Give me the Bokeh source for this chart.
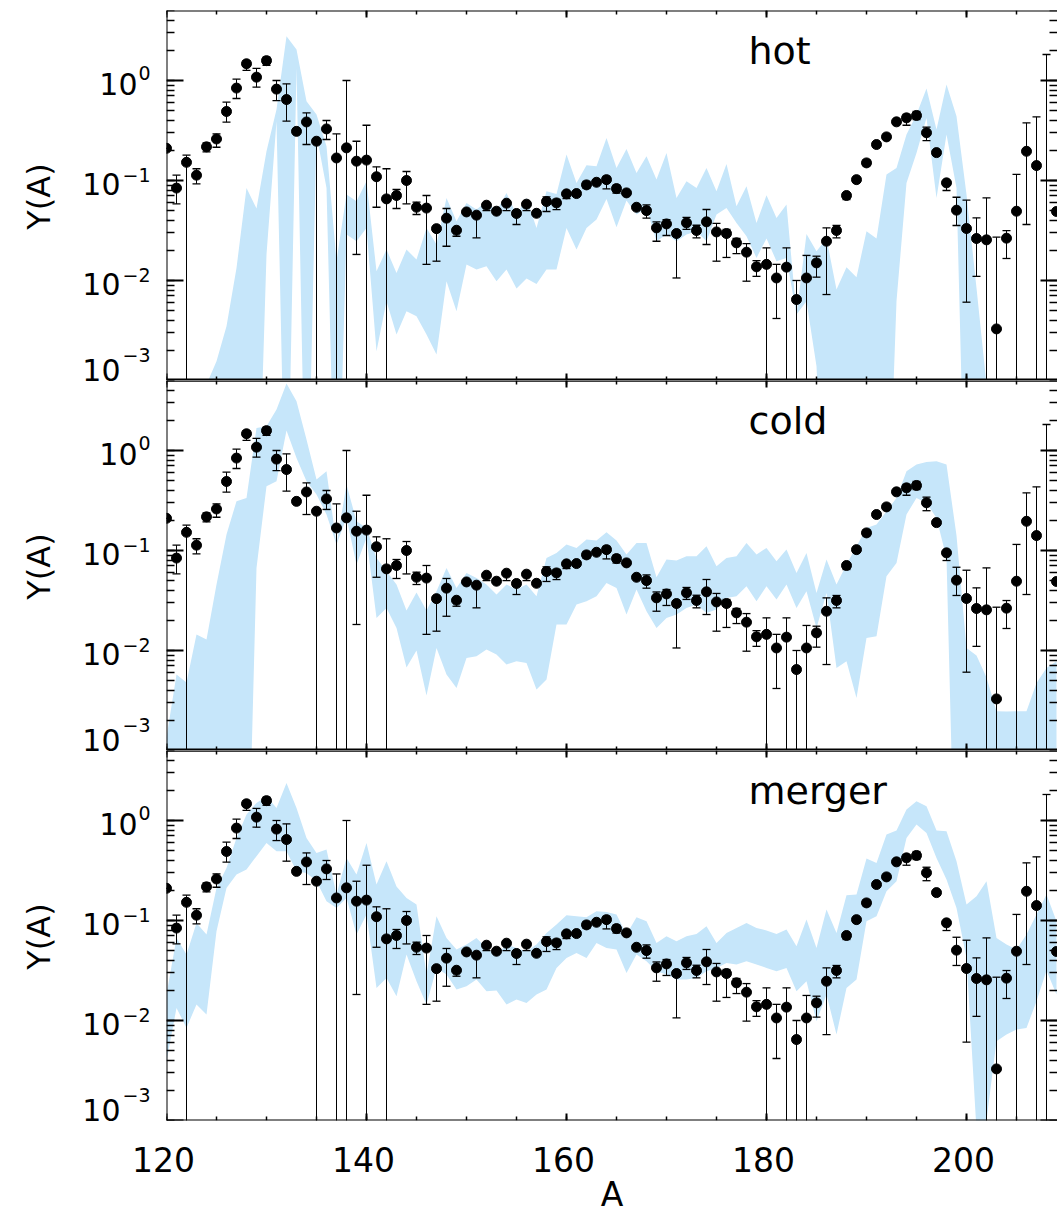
import numpy as np
from bokeh.plotting import figure
from bokeh.layouts import column, row
from bokeh.models import (ColumnDataSource, Range1d, LinearAxis, LogAxis,
                          SingleIntervalTicker, LogTicker, CustomJSTickFormatter, Label)
from bokeh.core.properties import value
from bokeh.embed import file_html
from bokeh.resources import INLINE

# ---------------------------------------------------------------- data
mass_number = list(range(120, 210))

# solar r-process abundances with their lower / upper error limits
solar_y = [0.21, 0.084, 0.152, 0.113, 0.217, 0.26, 0.49, 0.84, 1.47, 1.08,
           1.58, 0.82, 0.645, 0.31, 0.385, 0.247, 0.328, 0.168, 0.212, 0.156,
           0.16, 0.109, 0.0655, 0.0708, 0.1, 0.054, 0.053, 0.033, 0.042, 0.0318,
           0.0485, 0.045, 0.0566, 0.0493, 0.0593, 0.0468, 0.058, 0.047, 0.0616, 0.0597,
           0.0735, 0.074, 0.0904, 0.096, 0.102, 0.083, 0.0752, 0.054, 0.05, 0.0336,
           0.0368, 0.0295, 0.0377, 0.0316, 0.0386, 0.0306, 0.0295, 0.0238, 0.0192, 0.0137,
           0.0145, 0.0106, 0.0136, 0.00645, 0.0106, 0.015, 0.0247, 0.0316, 0.0708, 0.102,
           0.15, 0.229, 0.273, 0.386, 0.423, 0.447, 0.3, 0.19, 0.0947, 0.0505,
           0.0331, 0.0263, 0.0255, 0.00328, 0.0265, 0.0493, 0.196, 0.141, 0.0001, 0.049]
solar_lo = [0.21, 0.0583, 1e-5, 0.0925, 0.193, 0.215, 0.383, 0.661, 1.26, 0.857,
            1.42, 0.63, 0.392, 0.31, 0.229, 1e-5, 0.257, 1e-5, 1e-5, 0.0182,
            1e-5, 0.054, 1e-5, 0.0525, 0.0583, 0.0457, 0.0145, 0.0156, 0.022, 0.0277,
            0.0485, 0.0267, 0.05, 0.0493, 0.05, 0.0363, 0.05, 0.047, 0.049, 0.0512,
            0.066, 0.074, 0.0835, 0.096, 0.0824, 0.075, 0.0752, 0.054, 0.042, 0.0247,
            0.0282, 0.0106, 0.0324, 0.0267, 0.0229, 0.0156, 0.017, 0.0186, 0.00984, 0.011,
            1e-5, 0.00417, 1e-5, 1e-5, 1e-5, 0.0108, 0.00724, 0.0267, 0.0645, 0.102,
            0.14, 0.229, 0.273, 0.386, 0.357, 0.407, 0.25, 0.19, 0.0794, 0.0355,
            0.00607, 0.011, 1e-5, 1e-5, 0.0166, 1e-5, 0.0363, 1e-5, 1e-5, 0.049]
solar_hi = [0.21, 0.113, 0.179, 0.131, 0.238, 0.292, 0.607, 1.03, 1.58, 1.32,
            1.71, 1.0, 0.925, 0.31, 0.474, 0.247, 0.398, 0.292, 1.0, 0.247,
            0.357, 0.137, 0.131, 0.0813, 0.123, 0.0607, 0.0708, 0.033, 0.0525, 0.0318,
            0.0485, 0.045, 0.0566, 0.0493, 0.0593, 0.0468, 0.058, 0.047, 0.0686, 0.0646,
            0.0735, 0.074, 0.0977, 0.096, 0.11, 0.09, 0.0752, 0.054, 0.057, 0.0385,
            0.0407, 0.0295, 0.0427, 0.0357, 0.0513, 0.0372, 0.0324, 0.0263, 0.0234, 0.0158,
            0.0212, 0.0145, 0.0212, 0.01, 0.0178, 0.0175, 0.0336, 0.0355, 0.0708, 0.102,
            0.16, 0.229, 0.273, 0.386, 0.457, 0.49, 0.341, 0.19, 0.0947, 0.068,
            0.0635, 0.0423, 0.067, 0.0271, 0.0316, 0.115, 0.377, 0.433, 1.82, 0.049]

# model bands (log10 of lower / upper edge); -5 means far below the axis
hot_lo_log = [-5, -5, -5, -5, -5, -5, -5, -5, -5, -5,
              -1.74, -0.407, -5, 0.126, -5, -0.54, -1.074, -5, -1.54, -1.607,
              -1.474, -2.707, -2.207, -2.54, -2.307, -2.357, -2.54, -2.74, -2.007, -2.307,
              -1.84, -1.89, -1.857, -2.007, -1.89, -2.08, -1.98, -2.034, -1.89, -1.89,
              -1.474, -1.69, -1.474, -1.39, -1.184, -1.467, -1.2, -1.34, -1.274, -1.607,
              -1.54, -1.607, -1.54, -1.507, -1.607, -1.34, -1.274, -1.424, -1.557, -1.774,
              -1.58, -1.807, -1.774, -2.34, -2.207, -2.857, -5, -5, -5, -5,
              -5, -5, -5, -2.207, -1.024, -0.724, -0.374, -1.174, -0.54, -1.074,
              -5, -5, -5, -5, -5, -5, -5, -5, -5, -5]
hot_hi_log = [-5, -5, -5, -5, -3.04, -2.807, -2.457, -1.874, -1.074, -1.28,
              -0.707, -0.29, 0.443, 0.31, -0.207, -0.34, -0.657, -1.807, -1.14, -1.207,
              -1.007, -1.907, -1.69, -1.924, -1.69, -1.79, -1.474, -1.64, -1.174, -1.407,
              -1.224, -1.29, -1.207, -1.307, -1.124, -1.34, -1.174, -1.474, -1.107, -1.134,
              -0.74, -1.024, -0.847, -0.857, -0.574, -0.874, -0.684, -0.924, -0.757, -0.99,
              -0.724, -1.174, -1.007, -1.074, -0.874, -1.107, -0.834, -1.257, -1.057, -1.424,
              -1.147, -1.374, -1.24, -2.34, -1.534, -1.707, -1.58, -2.09, -1.867, -1.967,
              -1.507, -1.58, -0.94, -0.874, -0.54, -0.34, -0.08, -0.49, -0.04, -0.357,
              -1.14, -2.074, -3.04, -5, -5, -5, -5, -5, -5, -5]

cold_lo_log = [-5, -5, -5, -5, -5, -5, -5, -5, -5, -1.174,
               -0.357, -0.307, 0.2, -0.074, -0.307, -0.44, -0.64, -0.94, -0.674, -1.14,
               -0.874, -1.674, -1.574, -1.774, -2.17, -2.0, -2.45, -1.974, -2.24, -2.374,
               -2.074, -2.057, -1.99, -2.04, -2.14, -2.107, -2.124, -2.39, -2.29, -1.74,
               -1.74, -1.54, -1.507, -1.457, -1.324, -1.374, -1.64, -1.39, -1.607, -1.774,
               -1.674, -1.64, -1.574, -1.54, -1.624, -1.59, -1.474, -1.457, -1.357, -1.507,
               -1.357, -1.49, -1.34, -1.574, -1.407, -1.774, -1.424, -2.174, -2.107, -2.474,
               -1.874, -1.857, -1.257, -1.124, -0.64, -0.474, -0.524, -0.674, -1.074, -5,
               -5, -5, -5, -5, -5, -5, -5, -5, -5, -5]
cold_hi_log = [-2.87, -2.24, -2.32, -1.84, -1.89, -1.34, -0.84, -0.507, -0.474, 0.226,
               0.243, 0.41, 0.67, 0.493, 0.11, -0.29, -0.207, -0.94, -0.34, -0.707,
               -0.774, -1.074, -1.207, -1.34, -1.6, -1.42, -1.6, -1.407, -1.174, -1.374,
               -1.224, -1.274, -1.34, -1.44, -1.34, -1.39, -1.34, -1.457, -1.074, -1.024,
               -0.94, -0.974, -0.89, -0.9, -0.817, -0.9, -1.04, -0.924, -0.924, -1.267,
               -1.09, -1.1, -1.057, -1.057, -0.957, -1.157, -1.074, -1.057, -0.924, -1.04,
               -0.974, -1.107, -0.99, -1.224, -1.024, -1.424, -1.09, -1.34, -1.14, -0.957,
               -0.774, -0.74, -0.607, -0.474, -0.207, -0.14, -0.114, -0.107, -0.14, -0.85,
               -1.974, -2.05, -2.27, -2.607, -2.61, -2.607, -2.607, -2.324, -2.174, -2.107]

merger_lo_log = [-2.407, -1.874, -2.074, -1.84, -1.94, -1.107, -0.674, -0.54, -0.49, -0.357,
                 -0.224, -0.307, -0.307, -0.507, -0.524, -0.607, -0.807, -0.874, -0.774, -1.14,
                 -0.94, -1.674, -1.574, -1.757, -1.34, -1.607, -1.84, -1.474, -1.54, -1.69,
                 -1.657, -1.59, -1.707, -1.7, -1.84, -1.79, -1.824, -1.74, -1.69, -1.474,
                 -1.374, -1.324, -1.374, -1.224, -1.274, -1.29, -1.524, -1.34, -1.407, -1.507,
                 -1.54, -1.59, -1.59, -1.574, -1.507, -1.474, -1.424, -1.44, -1.407, -1.44,
                 -1.474, -1.507, -1.474, -1.707, -1.607, -2.007, -1.74, -2.14, -1.674, -1.59,
                 -1.007, -0.957, -0.707, -0.607, -0.174, -0.04, -0.124, -0.374, -0.59, -0.874,
                 -1.374, -3.1, -3.0, -2.207, -2.14, -2.09, -2.074, -1.807, -1.5, -1.74]
merger_hi_log = [-1.74, -1.174, -1.34, -1.024, -1.14, -0.674, -0.474, -0.174, 0.06, 0.176,
                 0.243, 0.126, 0.376, 0.126, -0.174, -0.324, -0.29, -0.74, -0.374, -0.54,
                 -0.224, -0.64, -0.407, -0.66, -0.774, -0.84, -1.54, -0.957, -1.174, -1.29,
                 -1.24, -1.174, -1.274, -1.34, -1.24, -1.274, -1.307, -1.24, -1.124, -1.04,
                 -0.947, -0.957, -0.967, -0.907, -0.914, -0.94, -1.14, -0.967, -1.007, -1.224,
                 -1.157, -1.207, -1.157, -1.134, -1.057, -1.224, -1.124, -1.074, -1.024, -1.074,
                 -1.1, -1.134, -1.09, -1.257, -0.99, -1.274, -0.89, -1.124, -0.747, -0.74,
                 -0.38, -0.424, -0.14, -0.1, 0.11, 0.193, 0.143, -0.1, -0.107, -0.407,
                 -0.84, -0.757, -0.607, -1.174, -1.24, -1.29, -1.14, -0.94, -0.74, -1.007]

panel_names = ["hot", "cold", "merger"]
band_edges = [(hot_lo_log, hot_hi_log), (cold_lo_log, cold_hi_log), (merger_lo_log, merger_hi_log)]
x_tick_values = [120, 140, 160, 180, 200]
y_tick_exponents = [0, -1, -2, -3]
x_axis_title = "A"
y_axis_title = "Y(A)"

# ---------------------------------------------------------------- style
FONT = "DejaVu Sans"
BAND_COLOR = "#c6e6fa"
X_START, X_END = 120, 209.1
Y_BOTTOM, Y_TOP = 1e-3, 10 ** 0.7
FRAME_H = 370
PAGE_W = 1057
PAGE_H = 1213
GUTTER_W = 163          # label column left of the panels
PAD = 3                 # room for the frame line on the panel canvas
TOP = 10                # space above the first panel
BELOW = 13              # space under the last panel kept in the panel column
PX_PER_A = 10.0         # horizontal scale of the panels
borders = [(TOP, 0), (0, 0), (0, BELOW)]
COLUMN_H = sum(t + FRAME_H + b for t, b in borders)
STRIP_H = PAGE_H - COLUMN_H   # x tick labels and title below the last panel

solar = ColumnDataSource(dict(A=mass_number, Y=solar_y, lo=solar_lo, hi=solar_hi))


def blank():
    return CustomJSTickFormatter(code="return ''")


def style_axis(ax, major_in, minor_in, width=2):
    ax.major_tick_in = major_in
    ax.major_tick_out = 0
    ax.minor_tick_in = minor_in
    ax.minor_tick_out = 0
    ax.axis_line_width = width
    ax.axis_line_color = "black"
    ax.major_tick_line_width = 2
    ax.minor_tick_line_width = 1.5
    ax.major_tick_line_color = "black"
    ax.minor_tick_line_color = "black"
    ax.major_label_text_font_size = "0px"


def bare(p):
    p.outline_line_color = None
    p.background_fill_color = "white"
    p.border_fill_color = "white"
    p.grid.visible = False
    return p


def make_panel(idx, top, bottom):
    name = panel_names[idx]
    lo_log, hi_log = band_edges[idx]
    p = figure(width=PAGE_W - GUTTER_W, height=top + FRAME_H + bottom,
               x_range=Range1d(X_START, X_END), y_range=Range1d(Y_BOTTOM, Y_TOP),
               y_axis_type="log", x_axis_location=None, y_axis_location=None,
               output_backend="svg", toolbar_location=None, tools="", title=None,
               min_border_left=PAD, min_border_right=0,
               min_border_top=top, min_border_bottom=bottom)
    bare(p)

    band = ColumnDataSource(dict(A=mass_number,
                                 lo=10.0 ** np.array(lo_log),
                                 hi=10.0 ** np.array(hi_log)))
    p.varea(x="A", y1="lo", y2="hi", source=band, fill_color=BAND_COLOR)

    # error bars, caps and points
    p.segment(x0="A", y0="lo", x1="A", y1="hi", source=solar,
              line_color="black", line_width=1)
    p.scatter(x="A", y="hi", source=solar, marker="dash", size=8,
              line_color="black", line_width=1.3)
    p.scatter(x="A", y="lo", source=solar, marker="dash", size=8,
              line_color="black", line_width=1.3)
    p.scatter(x="A", y="Y", source=solar, marker="circle", size=10,
              fill_color="black", line_color="black")

    # x axes: inward ticks on top and bottom of every panel
    top_ax = LinearAxis(ticker=SingleIntervalTicker(interval=20, num_minor_ticks=4),
                        formatter=blank(), fixed_location=Y_TOP)
    style_axis(top_ax, 7, 4, width=2 if idx == 0 else 2.5)
    p.add_layout(top_ax, "above")

    bot_ax = LinearAxis(ticker=SingleIntervalTicker(interval=20, num_minor_ticks=4),
                        formatter=blank(), fixed_location=Y_BOTTOM)
    style_axis(bot_ax, 7, 4, width=2 if idx == 2 else 4)
    p.add_layout(bot_ax, "below")

    # y axes: inward ticks on both sides
    left_ax = LogAxis(ticker=LogTicker(num_minor_ticks=10), formatter=blank(),
                      fixed_location=X_START)
    style_axis(left_ax, 17, 8)
    p.add_layout(left_ax, "left")

    right_ax = LogAxis(ticker=LogTicker(num_minor_ticks=10), formatter=blank(),
                       fixed_location=X_END)
    style_axis(right_ax, 17, 8)
    right_ax.axis_line_color = None
    p.add_layout(right_ax, "right")

    # panel name, centred 40 px below the top of the frame
    p.add_layout(Label(x=178.2, y=10 ** (np.log10(Y_TOP) - 0.40), text=name,
                       text_align="left", text_baseline="middle", text_font=FONT,
                       text_font_size="38px", text_color="black"))
    return p


def make_gutter():
    """Decade labels and y titles for all three panels, in page pixels (y counts up)."""
    g = figure(width=GUTTER_W, height=COLUMN_H,
               x_range=Range1d(0, GUTTER_W), y_range=Range1d(0, COLUMN_H),
               x_axis_location=None, y_axis_location=None,
               output_backend="svg", toolbar_location=None, tools="", title=None,
               min_border_left=0, min_border_right=0, min_border_top=0, min_border_bottom=0)
    bare(g)

    decades = np.log10(Y_TOP) - np.log10(Y_BOTTOM)
    base = dict(x=[], y=[], text=[])
    sup = dict(x=[], y=[], text=[])
    title = dict(x=[], y=[], text=[])
    for k in range(len(panel_names)):
        frame_top = TOP + k * FRAME_H
        for e in y_tick_exponents:
            tick_py = frame_top + (np.log10(Y_TOP) - e) / decades * FRAME_H
            # "10" and its exponent; the lowest decade label sits above its tick
            base_dy = -10.3 if e == -3 else 3.2
            exp_dy = -25.8 if e == -3 else (-7.8 if e == 0 else -5.8)
            base["x"].append(137 if e == 0 else 120)
            base["y"].append(COLUMN_H - (tick_py + base_dy))
            base["text"].append("10")
            sup["x"].append(138 if e == 0 else 122)
            sup["y"].append(COLUMN_H - (tick_py + exp_dy))
            sup["text"].append("0" if e == 0 else "\u2212" + str(-e))
        title["x"].append(38)
        title["y"].append(COLUMN_H - (frame_top + FRAME_H / 2 + 1))
        title["text"].append(y_axis_title)

    g.text(x="x", y="y", text="text", source=ColumnDataSource(base),
           text_align="right", text_baseline="middle",
           text_font=value(FONT), text_font_size="30px", text_color="black")
    g.text(x="x", y="y", text="text", source=ColumnDataSource(sup),
           text_align="left", text_baseline="middle",
           text_font=value(FONT), text_font_size="19px", text_color="black")
    g.text(x="x", y="y", text="text", source=ColumnDataSource(title),
           angle=np.pi / 2, text_align="center", text_baseline="middle",
           text_font=value(FONT), text_font_size="32px", text_color="black")
    return g


def make_strip():
    """Tick numbers and the x title under the last panel (y counts up from the page bottom)."""
    s = figure(width=PAGE_W, height=STRIP_H,
               x_range=Range1d(X_START - (GUTTER_W + PAD) / PX_PER_A, X_END),
               y_range=Range1d(0, STRIP_H),
               x_axis_location=None, y_axis_location=None,
               output_backend="svg", toolbar_location=None, tools="", title=None,
               min_border_left=0, min_border_right=0, min_border_top=0, min_border_bottom=0)
    bare(s)
    s.text(x=x_tick_values, y=[54] * len(x_tick_values), text=[str(v) for v in x_tick_values],
           x_offset=-3, text_align="center", text_baseline="middle",
           text_font=value(FONT), text_font_size="33px", text_color="black")
    s.text(x=[(X_START + X_END) / 2], y=[19], text=[x_axis_title],
           text_align="center", text_baseline="middle",
           text_font=value(FONT), text_font_size="33px", text_color="black")
    return s


panels = column(*[make_panel(i, t, b) for i, (t, b) in enumerate(borders)], spacing=0)
layout = column(row(make_gutter(), panels, spacing=0), make_strip(), spacing=0)
open("out.html", "w").write(file_html(layout, INLINE, title="Y(A)"))
